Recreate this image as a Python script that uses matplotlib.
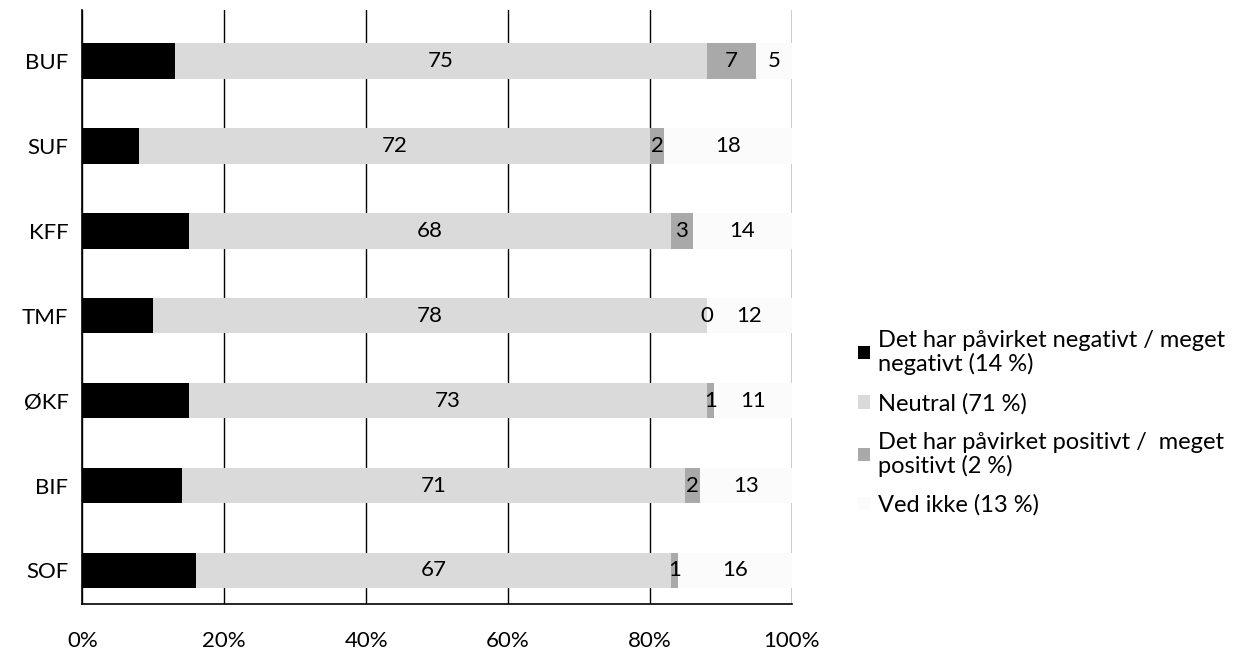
import matplotlib.pyplot as plt
import numpy as np

plt.rcParams['font.family'] = ['Lato', 'DejaVu Sans']

groups = ['BUF', 'SUF', 'KFF', 'TMF', 'ØKF', 'BIF', 'SOF']
negative = [13, 8, 15, 10, 15, 14, 16]
neutral = [75, 72, 68, 78, 73, 71, 67]
positive = [7, 2, 3, 0, 1, 2, 1]
dont_know = [5, 18, 14, 12, 11, 13, 16]

legend_labels = ['Det har påvirket negativt / meget\nnegativt (14 %)',
                 'Neutral (71 %)',
                 'Det har påvirket positivt /  meget\npositivt (2 %)',
                 'Ved ikke (13 %)']
colors = ['#000000', '#dadada', '#a9a9a9', '#fbfbfb']

fig = plt.figure(figsize=(12.47, 6.57), dpi=100)
ax = fig.add_axes([0.066, 0.08, 0.569, 0.905])

y = np.arange(len(groups))[::-1]
series = [negative, neutral, positive, dont_know]
left = np.zeros(len(groups))
bars = []
for i, vals in enumerate(series):
    vals = np.array(vals, dtype=float)
    b = ax.barh(y, vals, left=left, height=0.42, color=colors[i], zorder=3,
                label=legend_labels[i])
    bars.append(b)
    if i > 0:
        for yy, l, v in zip(y, left, vals):
            ax.text(l + v / 2, yy, f'{int(v)}', ha='center', va='center',
                    fontsize=16, zorder=4)
    left += vals

ax.set_xlim(0, 100)
ax.set_ylim(-0.4, 6.6)
ax.set_xticks([0, 20, 40, 60, 80, 100])
ax.set_xticklabels(['0%', '20%', '40%', '60%', '80%', '100%'], fontsize=16)
ax.set_yticks(y)
ax.set_yticklabels(groups, fontsize=16)
ax.tick_params(length=0)
ax.tick_params(axis='x', pad=19)
ax.tick_params(axis='y', pad=10)
ax.grid(True, axis='x', color='black', linewidth=1, zorder=0)
for s in ['top', 'right']:
    ax.spines[s].set_visible(False)
ax.spines['left'].set_linewidth(1.2)
ax.spines['bottom'].set_linewidth(1.2)

leg = fig.legend(handles=bars, labels=legend_labels, loc='upper left',
                 bbox_to_anchor=(0.671, 0.53), frameon=False, fontsize=17,
                 handlelength=0.5, handleheight=0.5, handletextpad=0.35,
                 labelspacing=0.75)
for t in leg.get_texts():
    t.set_linespacing(1.1)

fig.savefig('out.png', dpi=100)
